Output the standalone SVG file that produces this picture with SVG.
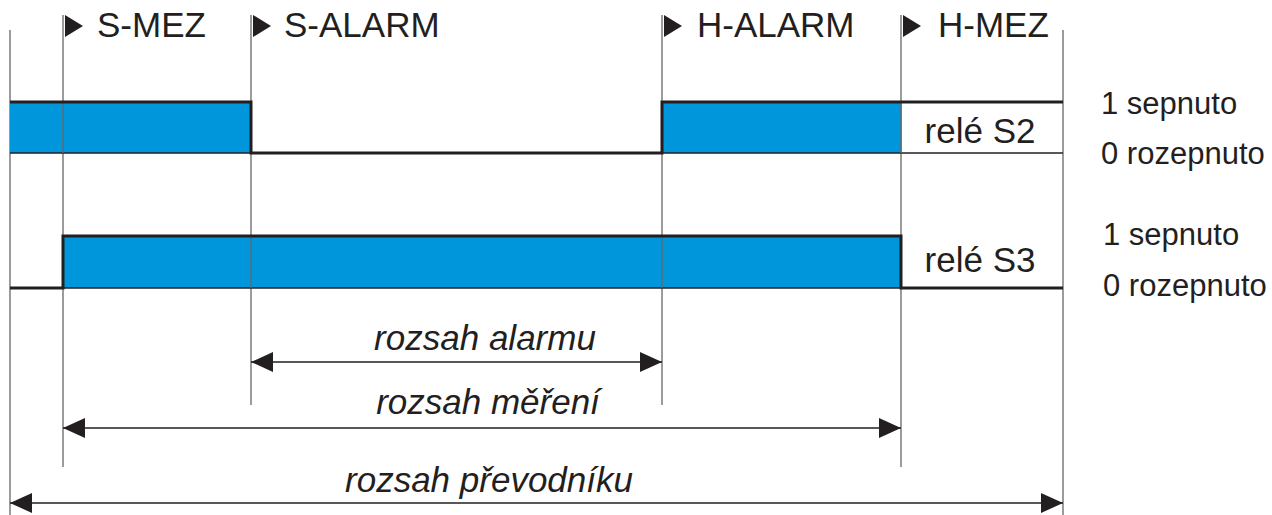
<svg xmlns="http://www.w3.org/2000/svg" width="1272" height="515" viewBox="0 0 1272 515">
<style>
text{font-family:"Liberation Sans",Arial,sans-serif;fill:#231f20}
.top{font-size:35px}
.lab{font-size:31px}
.rel{font-size:35px}
.rng{font-size:35px;font-style:italic}
.grid{stroke:#666;stroke-width:1.3;fill:none}
.thin{stroke:#231f20;stroke-width:1.3;fill:none}
.sig{stroke:#231f20;stroke-width:3;fill:none;stroke-linejoin:miter}
.blue{fill:#0096DB}
.dim{stroke:#231f20;stroke-width:1.3;fill:none}
.tri{fill:#231f20}
</style>
<defs>
<marker id="ah" viewBox="0 0 22 20" refX="22" refY="10" markerWidth="22" markerHeight="20" markerUnits="userSpaceOnUse" orient="auto-start-reverse">
<path d="M0,0 L22,10 L0,20 Z" fill="#231f20"/>
</marker>
</defs>
<g id="grid">
<line class="grid" x1="10" y1="30" x2="10" y2="515"/>
<line class="grid" x1="63" y1="15" x2="63" y2="467"/>
<line class="grid" x1="251" y1="15" x2="251" y2="405"/>
<line class="grid" x1="662" y1="15" x2="662" y2="405"/>
<line class="grid" x1="901" y1="15" x2="901" y2="467"/>
<line class="grid" x1="1063" y1="30" x2="1063" y2="515"/>
</g>
<g id="relay-s2">
<rect class="blue" x="10" y="102" width="241" height="51"/>
<rect class="blue" x="662" y="102" width="239" height="51"/>
<line class="thin" x1="10" y1="153" x2="251" y2="153"/>
<line class="thin" x1="662" y1="153" x2="1063" y2="153"/>
<line class="grid" x1="63" y1="102" x2="63" y2="153"/>
<line class="grid" x1="901" y1="102" x2="901" y2="153"/>
<path class="sig" d="M10,102 H251 V153 H662 V102 H1063"/>
<text class="rel" x="980" y="143" text-anchor="middle">relé S2</text>
<text class="lab" x="1101" y="114">1 sepnuto</text>
<text class="lab" x="1101" y="164">0 rozepnuto</text>
</g>
<g id="relay-s3">
<rect class="blue" x="63" y="236" width="838" height="52"/>
<line class="thin" x1="63" y1="288" x2="901" y2="288"/>
<line class="grid" x1="251" y1="236" x2="251" y2="288"/>
<line class="grid" x1="662" y1="236" x2="662" y2="288"/>
<path class="sig" d="M10,288 H63 V236 H901 V288 H1063"/>
<text class="rel" x="980" y="272" text-anchor="middle">relé S3</text>
<text class="lab" x="1103" y="245">1 sepnuto</text>
<text class="lab" x="1103" y="296">0 rozepnuto</text>
</g>
<g id="labels-top">
<path class="tri" d="M65,15 L83,26 L65,37 Z"/>
<text class="top" x="97" y="37">S-MEZ</text>
<path class="tri" d="M253,15 L271,26 L253,37 Z"/>
<text class="top" x="284" y="37">S-ALARM</text>
<path class="tri" d="M664,15 L682,26 L664,37 Z"/>
<text class="top" x="697" y="37">H-ALARM</text>
<path class="tri" d="M903,15 L921,26 L903,37 Z"/>
<text class="top" x="938" y="37">H-MEZ</text>
</g>
<g id="connectors">
<line class="dim" x1="251" y1="362" x2="662" y2="362" marker-start="url(#ah)" marker-end="url(#ah)"/>
<line class="dim" x1="63" y1="428" x2="901" y2="428" marker-start="url(#ah)" marker-end="url(#ah)"/>
<line class="dim" x1="10" y1="503" x2="1063" y2="503" marker-start="url(#ah)" marker-end="url(#ah)"/>
</g>
<g id="range-labels">
<text class="rng" x="485" y="350" text-anchor="middle">rozsah alarmu</text>
<text class="rng" x="488" y="414" text-anchor="middle">rozsah měření</text>
<text class="rng" x="489" y="492" text-anchor="middle">rozsah převodníku</text>
</g>
</svg>
